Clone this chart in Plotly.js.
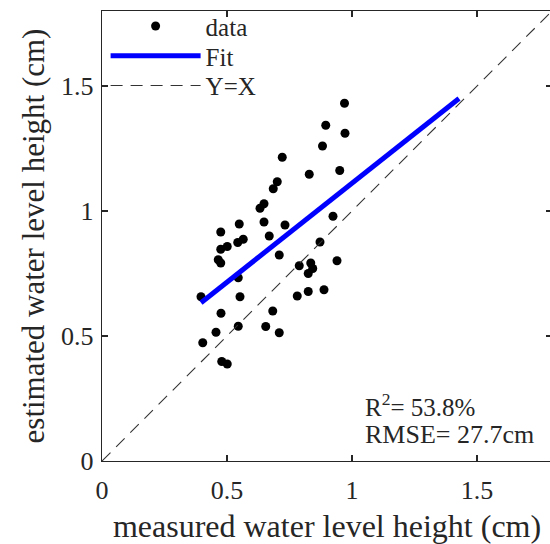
<!DOCTYPE html>
<html>
<head>
<meta charset="utf-8">
<script src="https://cdn.plot.ly/plotly-3.0.1.min.js"></script>
<style>html,body{margin:0;padding:0;overflow:hidden;background:#fff}#chart{width:553px;height:544px}</style>
</head>
<body>
<div id="chart"></div>
<script>
// measured (x) vs estimated (y) water level height, cm
const measured = [0.970,0.972,0.895,0.882,0.721,0.829,0.951,0.701,0.685,0.648,0.632,0.549,0.648,0.732,0.475,0.924,0.669,0.565,0.543,0.501,0.475,0.872,0.709,0.465,0.475,0.940,0.789,0.835,0.843,0.825,0.545,0.396,0.552,0.781,0.825,0.888,0.683,0.476,0.545,0.655,0.709,0.456,0.403,0.479,0.501];
const estimated = [1.431,1.311,1.343,1.260,1.215,1.147,1.162,1.117,1.089,1.029,1.011,0.948,0.956,0.944,0.916,0.979,0.900,0.887,0.874,0.858,0.847,0.876,0.824,0.805,0.792,0.801,0.781,0.792,0.770,0.750,0.733,0.657,0.657,0.660,0.678,0.685,0.600,0.591,0.539,0.538,0.513,0.515,0.473,0.398,0.388];
// fitted line end points
const fitX = [0.396, 1.428];
const fitY = [0.633, 1.450];
// identity line
const idX = [0, 1.8];
const idY = [0, 1.8];
const xTicks = [0, 0.5, 1, 1.5];
const yTicks = [0, 0.5, 1, 1.5];
const statsText = ["R<sup>2</sup>= 53.8%", "RMSE= 27.7cm"];

const font = "Liberation Serif, Times New Roman, serif";
const ink = "#262626";

const traces = [
  {x: measured, y: estimated, type: "scatter", mode: "markers", name: "data", legend: "legend",
   marker: {color: "#000", size: 9, line: {width: 0}}},
  {x: fitX, y: fitY, type: "scatter", mode: "lines", name: "Fit", legend: "legend2",
   line: {color: "#0000ff", width: 5}},
  {x: idX, y: idY, type: "scatter", mode: "lines", name: "Y=X", legend: "legend3",
   line: {color: "#333", width: 1.1, dash: "12px,8px"}}
];

const axisCommon = {
  range: [0, 1.8], showgrid: false, zeroline: false,
  showline: true, linecolor: ink, linewidth: 1.3, mirror: "ticks",
  ticks: "inside", ticklen: 6, tickwidth: 1.3, tickcolor: ink,
  tickfont: {family: font, size: 26, color: ink}
};

function legendAt(yPaper) {
  return {x: 0.008, y: yPaper, xanchor: "left", yanchor: "middle",
          bgcolor: "rgba(0,0,0,0)", borderwidth: 0, itemwidth: 90,
          font: {family: font, size: 25, color: ink}};
}

const layout = {
  width: 553, height: 544,
  margin: {l: 102, r: 1, t: 11, b: 83},
  paper_bgcolor: "#fff", plot_bgcolor: "#fff",
  font: {family: font, color: ink},
  showlegend: true,
  legend: legendAt(0.966),
  legend2: legendAt(0.900),
  legend3: legendAt(0.834),
  xaxis: Object.assign({}, axisCommon, {
    tickvals: xTicks, ticktext: xTicks.map(String), ticklabelstandoff: 5,
    title: {text: "measured water level height (cm)", font: {family: font, size: 32, color: ink}, standoff: 14}
  }),
  yaxis: Object.assign({}, axisCommon, {
    tickvals: yTicks, ticktext: yTicks.map(String), ticklabelstandoff: 2,
    title: {text: "estimated water level height (cm)", font: {family: font, size: 31, color: ink}, standoff: 7}
  }),
  annotations: [
    {xref: "x", yref: "y", x: 1.045, y: 0.224, xanchor: "left", yanchor: "middle", showarrow: false,
     text: statsText[0], font: {family: font, size: 25, color: ink}},
    {xref: "x", yref: "y", x: 1.045, y: 0.108, xanchor: "left", yanchor: "middle", showarrow: false,
     text: statsText[1], font: {family: font, size: 26, color: ink}}
  ]
};

Plotly.newPlot("chart", traces, layout, {displayModeBar: false, staticPlot: true});
</script>
</body>
</html>
